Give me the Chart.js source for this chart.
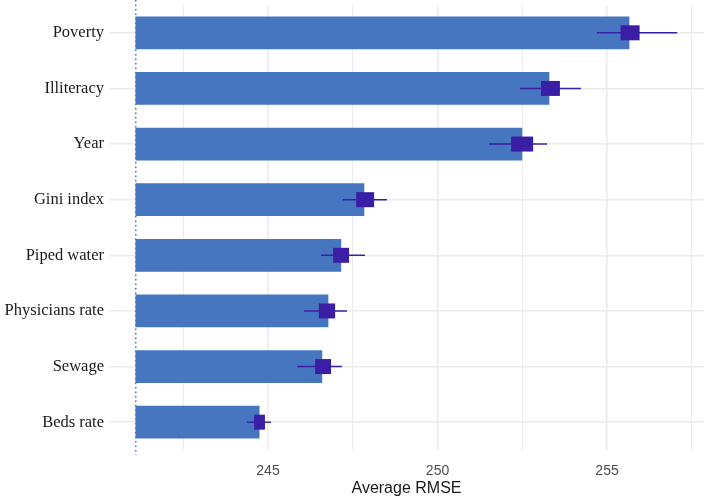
<!DOCTYPE html>
<html>
<head>
<meta charset="utf-8">
<script src="https://cdn.jsdelivr.net/npm/chart.js@4"></script>
<style>
  html, body { margin: 0; padding: 0; background: #ffffff; }
  #wrap { width: 704px; height: 500px; }
</style>
</head>
<body>
<div id="wrap"><canvas id="chart"></canvas></div>
<script>
// Data
const categories = ['Poverty', 'Illiteracy', 'Year', 'Gini index', 'Piped water', 'Physicians rate', 'Sewage', 'Beds rate'];
const barBase = 241.1;
const meanRmse = [255.65, 253.29, 252.49, 247.83, 247.15, 246.77, 246.59, 244.74];
const boxLow = [255.40, 253.05, 252.17, 247.60, 246.92, 246.50, 246.39, 244.59];
const boxHigh = [255.96, 253.61, 252.82, 248.13, 247.39, 246.98, 246.86, 244.91];
const whiskerLow = [254.70, 252.43, 251.52, 247.21, 246.56, 246.06, 245.86, 244.38];
const whiskerHigh = [257.07, 254.23, 253.23, 248.51, 247.86, 247.33, 247.18, 245.09];
const gridTicks = [242.5, 245, 247.5, 250, 252.5, 255, 257.5];
const labelTicks = [245, 250, 255];

const barColor = '#4576bf';
const markColor = '#3a1ea6';

// baseline dotted line + error bars with boxes
const rmsePlugin = {
    id: 'rmseMarks',
    beforeDatasetsDraw(chart) {
        const { ctx, chartArea, scales } = chart;
        const x = scales.x.getPixelForValue(barBase);
        ctx.save();
        ctx.strokeStyle = '#3f6fcc';
        ctx.lineWidth = 1.5;
        ctx.setLineDash([1.5, 3]);
        ctx.beginPath();
        ctx.moveTo(x, 0);
        ctx.lineTo(x, chartArea.bottom + 5);
        ctx.stroke();
        ctx.restore();
    },
    afterDatasetsDraw(chart) {
        const { ctx, scales } = chart;
        const xs = scales.x, ys = scales.y;
        ctx.save();
        categories.forEach((c, i) => {
            const y = ys.getPixelForValue(i);
            ctx.strokeStyle = markColor;
            ctx.lineWidth = 1.4;
            ctx.beginPath();
            ctx.moveTo(xs.getPixelForValue(whiskerLow[i]), y);
            ctx.lineTo(xs.getPixelForValue(whiskerHigh[i]), y);
            ctx.stroke();
            const x0 = xs.getPixelForValue(boxLow[i]);
            const x1 = xs.getPixelForValue(boxHigh[i]);
            ctx.fillStyle = markColor;
            ctx.fillRect(x0, y - 7.5, x1 - x0, 15);
        });
        ctx.restore();
    }
};

new Chart(document.getElementById('chart'), {
    type: 'bar',
    data: {
        labels: categories,
        datasets: [{
            data: meanRmse.map(v => [barBase, v]),
            backgroundColor: barColor,
            borderWidth: 0,
            barThickness: 32
        }]
    },
    options: {
        indexAxis: 'y',
        responsive: true,
        maintainAspectRatio: false,
        animation: false,
        layout: { padding: { top: 5, right: 0, left: 0, bottom: 0 } },
        plugins: {
            legend: { display: false },
            tooltip: { enabled: false }
        },
        scales: {
            x: {
                type: 'linear',
                min: 240.31,
                max: 257.86,
                afterBuildTicks: (scale) => {
                    scale.ticks = gridTicks.map(v => ({ value: v }));
                },
                afterFit: (scale) => {
                    scale.height = 50;
                    scale.paddingLeft = 0;
                    scale.paddingRight = 0;
                },
                border: { display: false },
                grid: {
                    drawTicks: false,
                    color: '#ebebeb',
                    lineWidth: (ctx) => labelTicks.includes(ctx.tick && ctx.tick.value) ? 1.6 : 1
                },
                ticks: {
                    padding: 13,
                    autoSkip: false,
                    maxRotation: 0,
                    color: '#4d4d4d',
                    font: { family: 'Liberation Sans', size: 14 },
                    callback: (v) => labelTicks.includes(v) ? String(v) : ''
                },
                title: {
                    display: true,
                    text: 'Average RMSE',
                    color: '#1a1a1a',
                    font: { family: 'Liberation Sans', size: 16 },
                    padding: { top: 0, bottom: 2 }
                }
            },
            y: {
                type: 'category',
                afterFit: (scale) => {
                    scale.width = 109;
                    scale.paddingTop = 0;
                    scale.paddingBottom = 0;
                },
                border: { display: false },
                grid: {
                    offset: false,
                    drawTicks: false,
                    color: '#ebebeb',
                    lineWidth: 1.5
                },
                ticks: {
                    padding: 5,
                    color: '#1a1a1a',
                    font: { family: 'Liberation Serif', size: 16.5 }
                }
            }
        }
    },
    plugins: [rmsePlugin]
});
</script>
</body>
</html>
